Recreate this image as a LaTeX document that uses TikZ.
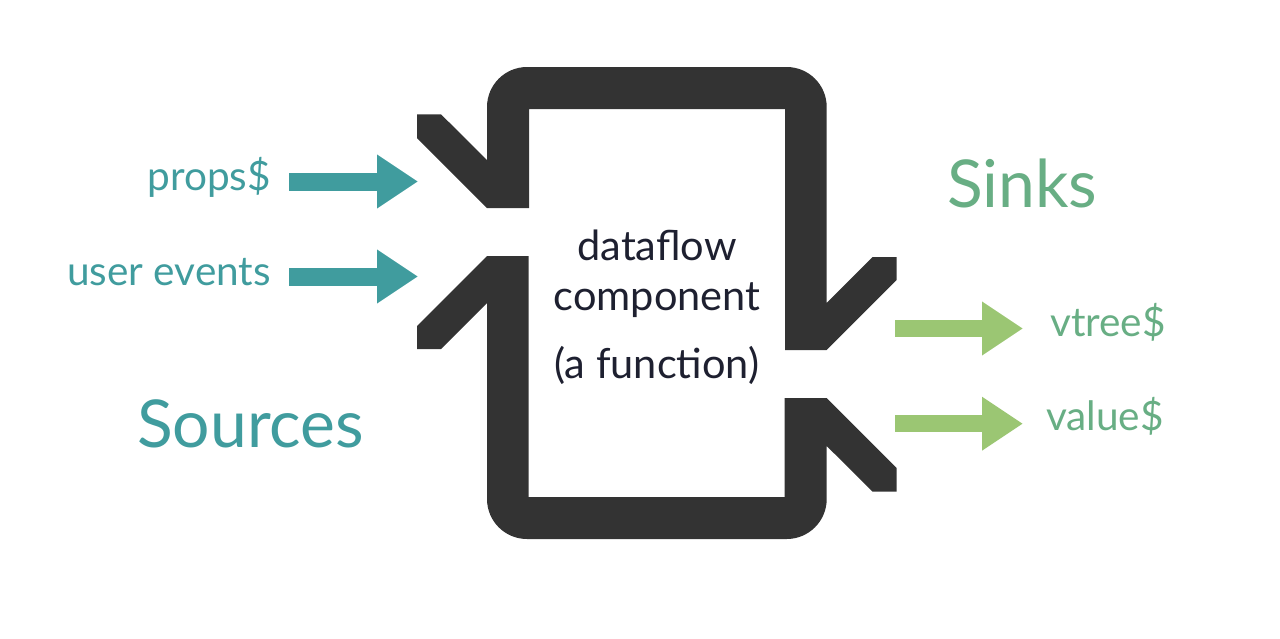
\documentclass[tikz,border=0pt]{standalone}
\usepackage{fontspec}
\setmainfont{Lato}
\usetikzlibrary{arrows.meta}
\definecolor{dark}{HTML}{333333}
\definecolor{tealc}{HTML}{409C9E}
\definecolor{sinkc}{HTML}{68AE84}
\definecolor{arrg}{HTML}{9BC673}
\definecolor{boxtxt}{HTML}{1E2030}
\tikzset{
  srcarrow/.style={draw=tealc, line width=18pt, -{Triangle[length=41pt,width=51pt,fill=tealc]}},
  snkarrow/.style={draw=arrg, line width=17.4pt, -{Triangle[length=41pt,width=51pt,fill=arrg]}},
  lbl/.style={inner sep=0pt, font=\fontsize{40.5}{48}\selectfont},
  big/.style={inner sep=0pt, font=\fontsize{66}{74}\selectfont},
  boxlbl/.style={inner sep=0pt, anchor=base, text=boxtxt, font=\fontsize{41.5}{48}\selectfont},
  piece/.style={fill=dark}
}
\begin{document}
\begin{tikzpicture}[x=1pt,y=1pt]
\useasboundingbox (0,0) rectangle (1280,-638);
% component shape: two halves, 180 degree symmetric
\path[piece] (417,-114.3) -- (441,-114.3) -- (487,-160) -- (487,-107)
  arc[start angle=180,end angle=90,radius=40pt] -- (786.7,-67)
  arc[start angle=90,end angle=0,radius=40pt] -- (826.7,-303)
  -- (872.7,-257) -- (896.7,-257) -- (896.7,-280) -- (826.7,-350)
  -- (785,-350) -- (785,-109) -- (529,-109) -- (529,-208) -- (487,-208)
  -- (417,-138) -- cycle;
\path[piece, rotate around={180:(656.85,-303)}] (417,-114.3) -- (441,-114.3) -- (487,-160) -- (487,-107)
  arc[start angle=180,end angle=90,radius=40pt] -- (786.7,-67)
  arc[start angle=90,end angle=0,radius=40pt] -- (826.7,-303)
  -- (872.7,-257) -- (896.7,-257) -- (896.7,-280) -- (826.7,-350)
  -- (785,-350) -- (785,-109) -- (529,-109) -- (529,-208) -- (487,-208)
  -- (417,-138) -- cycle;
% box text
\node[boxlbl] (t1) at (657,-260) {dataflow};
\node[boxlbl] (t2) at (657,-310) {component};
\node[boxlbl] (t3) at (657,-378) {(a function)};
% sources
\node[lbl, anchor=base east, text=tealc] (props) at (271,-190) {props\$};
\node[lbl, anchor=base east, text=tealc] (user) at (271,-285) {user events};
\node[big, anchor=base west, text=tealc] (sources) at (137,-447) {Sources};
\coordinate (a1s) at (289,-181.5);
\coordinate (a1e) at (418,-181.5);
\coordinate (a2s) at (289,-276.5);
\coordinate (a2e) at (418,-276.5);
\draw[srcarrow] (a1s) -- (a1e);
\draw[srcarrow] (a2s) -- (a2e);
% sinks
\node[big, anchor=base west, text=sinkc] (sinks) at (947,-207) {Sinks};
\node[lbl, anchor=base west, text=sinkc] (vtree) at (1050,-336) {vtree\$};
\node[lbl, anchor=base west, text=sinkc] (value) at (1046,-430) {value\$};
\coordinate (b1s) at (895,-328.5);
\coordinate (b1e) at (1023,-328.5);
\coordinate (b2s) at (895,-423.7);
\coordinate (b2e) at (1023,-423.7);
\draw[snkarrow] (b1s) -- (b1e);
\draw[snkarrow] (b2s) -- (b2e);
\end{tikzpicture}
\end{document}
